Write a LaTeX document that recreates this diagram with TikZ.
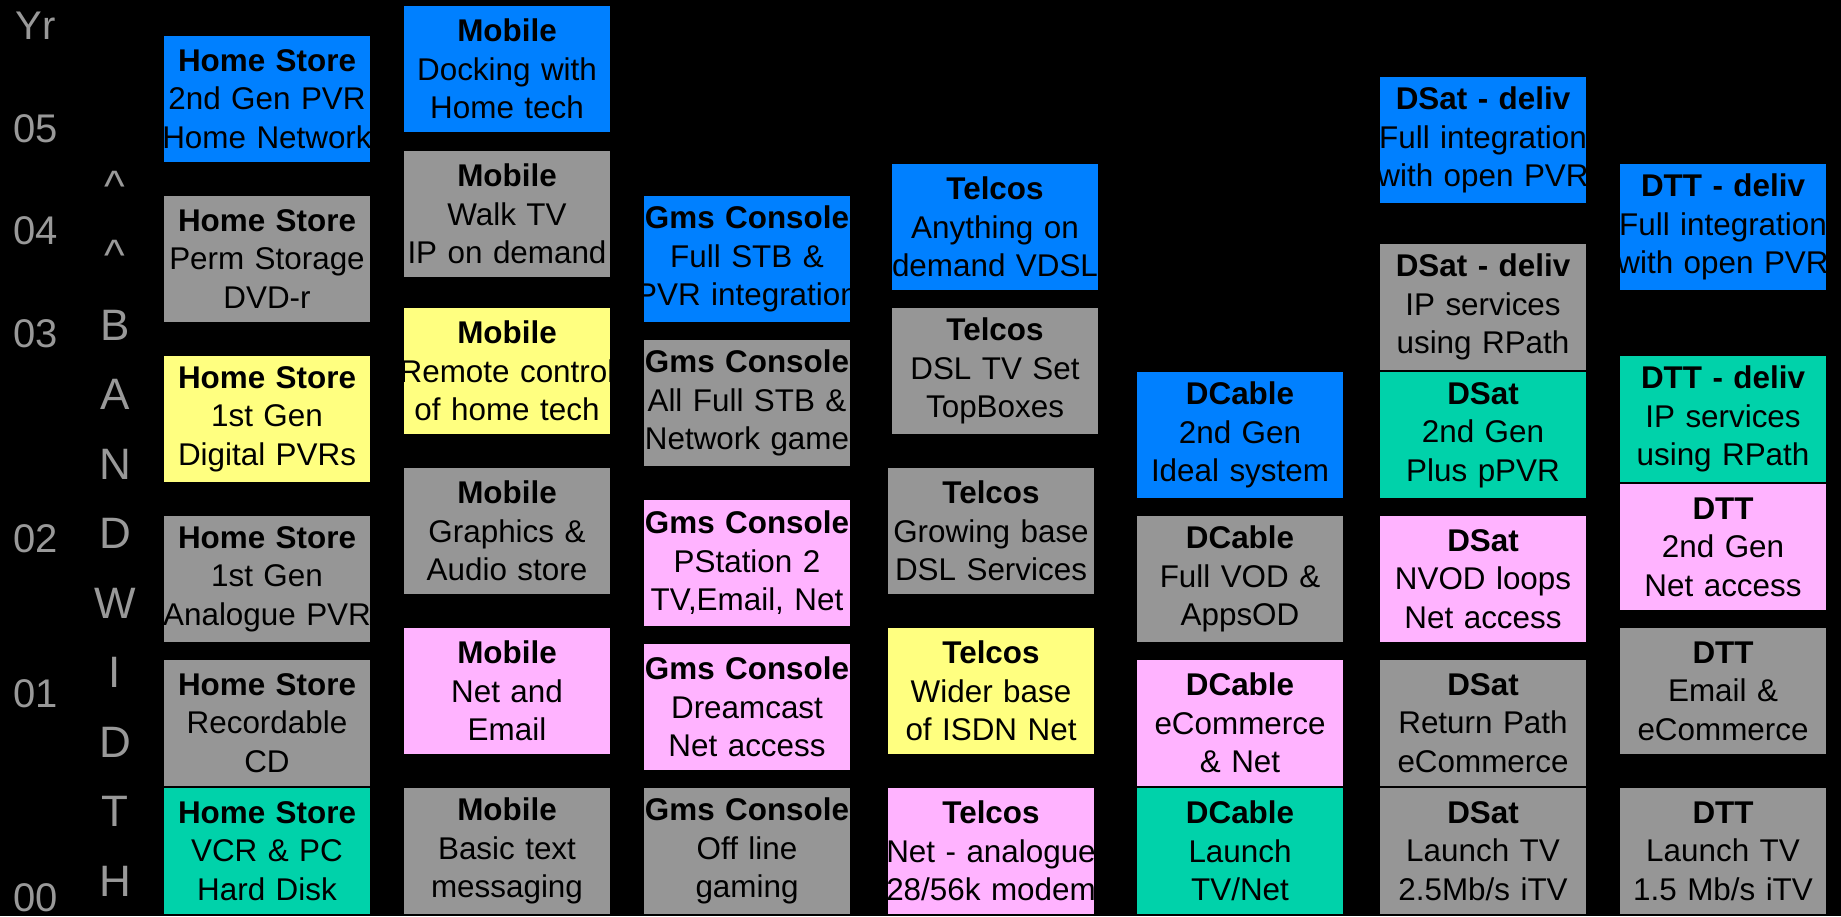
\documentclass[tikz,border=0pt]{standalone}
\usepackage{fontspec}
\setmainfont{Liberation Sans}
\usetikzlibrary{positioning}
\definecolor{boxblue}{HTML}{0080FF}
\definecolor{boxgrey}{HTML}{969696}
\definecolor{boxyellow}{HTML}{FFFF80}
\definecolor{boxpink}{HTML}{FFB3FF}
\definecolor{boxgreen}{HTML}{00D2AA}
\definecolor{labelgrey}{HTML}{999999}
% a line wider than its box stays centred and runs out on both sides
\newcommand{\spill}[1]{\makebox[\linewidth]{#1}}

\begin{document}
\begin{tikzpicture}[x=0.5pt, y=-0.5pt,
    box/.style={rectangle, inner sep=0pt, outer sep=0pt, minimum width=103pt, minimum height=63pt,
                text width=103pt, align=center, text=black,
                font=\fontsize{15.7}{19.25}\selectfont},
    bbox/.style={box, fill=boxblue},
    gbox/.style={box, fill=boxgrey},
    ybox/.style={box, fill=boxyellow},
    pbox/.style={box, fill=boxpink},
    tbox/.style={box, fill=boxgreen},
    yrlbl/.style={text=labelgrey, inner sep=0pt, font=\fontsize{20}{20}\selectfont},
    bwlbl/.style={text=labelgrey, inner sep=0pt, font=\fontsize{22}{22}\selectfont}
  ]
  \useasboundingbox (0,0) rectangle (1841,916);
  \fill[black] (0,0) rectangle (1841,916);

  % years down the left
  \node[yrlbl, anchor=base] (yr) at (36,39) {Yr};
  \node[yrlbl, anchor=base] (y05) at (36,142) {05};
  \node[yrlbl, anchor=base] (y04) at (36,244) {04};
  \node[yrlbl, anchor=base] (y03) at (36,347) {03};
  \node[yrlbl, anchor=base] (y02) at (36,552) {02};
  \node[yrlbl, anchor=base] (y01) at (36,707) {01};
  \node[yrlbl, anchor=base] (y00) at (36,911) {00};

  % bandwidth, one letter a line
  \foreach \ch [count=\i from 0] in {\textasciicircum,\textasciicircum,B,A,N,D,W,I,D,T,H}
    \node[bwlbl, anchor=base] (bw\i) at (115,{201+69.5*\i}) {\ch};

  % Home Store
  \node[bbox, anchor=north west] (hs1) at (164,36) {\textbf{Home Store}\\2nd Gen PVR\\\spill{Home Network}};
  \node[gbox, below=17pt of hs1] (hs2) {\textbf{Home Store}\\Perm Storage\\DVD-r};
  \node[ybox, below=17pt of hs2] (hs3) {\textbf{Home Store}\\1st Gen\\Digital PVRs};
  \node[gbox, below=17pt of hs3] (hs4) {\textbf{Home Store}\\1st Gen\\\spill{Analogue PVR}};
  \node[gbox, below=9pt of hs4] (hs5) {\textbf{Home Store}\\Recordable\\CD};
  \node[tbox, below=1pt of hs5] (hs6) {\textbf{Home Store}\\VCR \& PC\\Hard Disk};

  % Mobile
  \node[bbox, anchor=north west] (mb1) at (404,6) {\textbf{Mobile}\\Docking with\\Home tech};
  \node[gbox, below=9.5pt of mb1] (mb2) {\textbf{Mobile}\\Walk TV\\IP on demand};
  \node[ybox, below=15.5pt of mb2] (mb3) {\textbf{Mobile}\\\spill{Remote control}\\of home tech};
  \node[gbox, below=17pt of mb3] (mb4) {\textbf{Mobile}\\Graphics \&\\Audio store};
  \node[pbox, below=17pt of mb4] (mb5) {\textbf{Mobile}\\Net and\\Email};
  \node[gbox, below=17pt of mb5] (mb6) {\textbf{Mobile}\\Basic text\\messaging};

  % Gms Console
  \node[bbox, anchor=north west] (gc1) at (644,196) {\textbf{\spill{Gms Console}}\\Full STB \&\\\spill{PVR integration}};
  \node[gbox, below=9pt of gc1] (gc2) {\textbf{\spill{Gms Console}}\\All Full STB \&\\\spill{Network game}};
  \node[pbox, below=17pt of gc2] (gc3) {\textbf{\spill{Gms Console}}\\PStation 2\\TV,Email, Net};
  \node[pbox, below=9pt of gc3] (gc4) {\textbf{\spill{Gms Console}}\\Dreamcast\\Net access};
  \node[gbox, below=9pt of gc4] (gc5) {\textbf{\spill{Gms Console}}\\Off line\\gaming};

  % Telcos
  \node[bbox, anchor=north west] (tc1) at (892,164) {\textbf{Telcos}\\Anything on\\\spill{demand VDSL}};
  \node[gbox, below=9pt of tc1] (tc2) {\textbf{Telcos}\\DSL TV Set\\TopBoxes};
  \node[gbox, below=17pt of tc2, xshift=-2pt] (tc3) {\textbf{Telcos}\\Growing base\\DSL Services};
  \node[ybox, below=17pt of tc3] (tc4) {\textbf{Telcos}\\Wider base\\of ISDN Net};
  \node[pbox, below=17pt of tc4] (tc5) {\textbf{Telcos}\\\spill{Net - analogue}\\\spill{28/56k modem}};

  % DCable
  \node[bbox, anchor=north west] (dc1) at (1137,372) {\textbf{DCable}\\2nd Gen\\Ideal system};
  \node[gbox, below=9pt of dc1] (dc2) {\textbf{DCable}\\Full VOD \&\\AppsOD};
  \node[pbox, below=9pt of dc2] (dc3) {\textbf{DCable}\\eCommerce\\\& Net};
  \node[tbox, below=1pt of dc3] (dc4) {\textbf{DCable}\\Launch\\TV/Net};

  % DSat
  \node[bbox, anchor=north west] (ds1) at (1380,77) {\textbf{DSat - deliv}\\\spill{Full integration}\\\spill{with open PVR}};
  \node[gbox, below=20.5pt of ds1] (ds2) {\textbf{DSat - deliv}\\IP services\\using RPath};
  \node[tbox, below=1pt of ds2] (ds3) {\textbf{DSat}\\2nd Gen\\Plus pPVR};
  \node[pbox, below=9pt of ds3] (ds4) {\textbf{DSat}\\NVOD loops\\Net access};
  \node[gbox, below=9pt of ds4] (ds5) {\textbf{DSat}\\Return Path\\eCommerce};
  \node[gbox, below=1pt of ds5] (ds6) {\textbf{DSat}\\Launch TV\\2.5Mb/s iTV};

  % DTT
  \node[bbox, anchor=north west] (dt1) at (1620,164) {\textbf{DTT - deliv}\\\spill{Full integration}\\\spill{with open PVR}};
  \node[tbox, below=33pt of dt1] (dt2) {\textbf{DTT - deliv}\\IP services\\using RPath};
  \node[pbox, below=1pt of dt2] (dt3) {\textbf{DTT}\\2nd Gen\\Net access};
  \node[gbox, below=9pt of dt3] (dt4) {\textbf{DTT}\\Email \&\\eCommerce};
  \node[gbox, below=17pt of dt4] (dt5) {\textbf{DTT}\\Launch TV\\1.5 Mb/s iTV};
\end{tikzpicture}
\end{document}
